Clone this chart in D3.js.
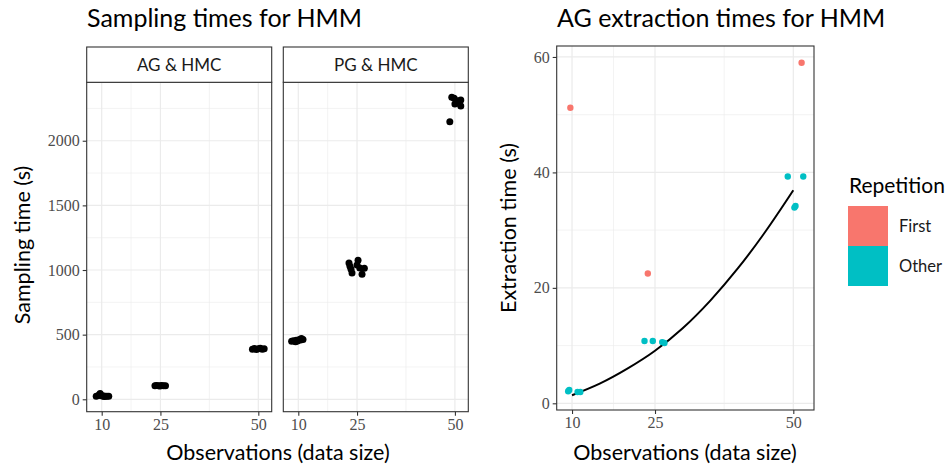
<!DOCTYPE html>
<html>
<head>
<meta charset="utf-8">
<script src="https://cdn.jsdelivr.net/npm/d3@7"></script>
<style>
  body { margin: 0; background: #fff; }
  svg { display: block; }
  .sans { font-family: Lato, "Noto Sans", sans-serif; }
  .tick text { font-family: "Liberation Serif", "DejaVu Serif", serif; }
</style>
</head>
<body>
<div id="chart"></div>
<script>
// ---- data ----
const facets = ['AG & HMC', 'PG & HMC'];
const xTicks = [10, 25, 50];
const yTicksLeft = [0, 500, 1000, 1500, 2000];
const yTicksRight = [0, 20, 40, 60];

// sampling times (jittered x positions)
const agX = [8.6, 9.2, 9.6, 9.9, 10.3, 10.8, 11.3, 11.8, 9.4, 10.6,
             23.6, 24.0, 24.5, 24.9, 25.3, 25.8, 26.3,
             48.5, 49.0, 49.5, 50.0, 50.5, 51.0, 51.5];
const agY = [24, 30, 44, 30, 24, 22, 24, 23, 36, 26,
             104, 106, 105, 103, 106, 104, 105,
             388, 392, 386, 390, 394, 388, 391];
const pgX = [8.3, 8.8, 9.3, 9.8, 10.3, 10.8, 11.2, 9.5, 10.6,
             22.95, 25.26, 23.47, 23.72, 25.0, 26.28, 26.87, 25.7, 23.2,
             49.2, 49.8, 50.7, 51.5, 50.0, 48.7, 51.0, 51.5];
const pgY = [448, 452, 445, 450, 462, 470, 462, 456, 458,
             1054, 1075, 1005, 977, 1039, 967, 1013, 1015, 1030,
             2336, 2328, 2309, 2268, 2284, 2147, 2290, 2315];

// extraction times
const firstX = [9.7, 23.7, 51.5];
const firstY = [51.2, 22.5, 59.0];
const otherX = [9.3, 9.5, 11.0, 11.5, 23.1, 24.6, 26.3, 26.7, 49.0, 51.8, 50.4, 50.2];
const otherY = [2.1, 2.3, 1.96, 1.96, 10.8, 10.8, 10.6, 10.45, 39.3, 39.3, 34.2, 33.9];

// fitted curve
const fitX = [10, 15, 20, 25, 30, 35, 40, 45, 50];
const fitY = [1.4, 3.4, 6.0, 9.1, 13.0, 17.8, 23.4, 29.8, 36.9];

const legendKeys = ['First', 'Other'];
const legendColors = ['#F8766D', '#00BFC4'];

// ---- drawing ----
const W = 952, H = 469;
const svg = d3.select('#chart').append('svg')
  .attr('width', W).attr('height', H)
  .attr('viewBox', `0 0 ${W} ${H}`);

const gridMajor = '#ebebeb';
const border = '#333333';
const tickCol = '#4d4d4d';

function drawPanel(g, x, y, xt, yt, minorX, minorY, showY) {
  const [x0, x1] = x.range();
  const [y0, y1] = y.range();
  minorX.forEach(v => g.append('line').attr('x1', x(v)).attr('x2', x(v))
    .attr('y1', y0).attr('y2', y1).attr('stroke', gridMajor).attr('stroke-width', 0.6));
  minorY.forEach(v => g.append('line').attr('y1', y(v)).attr('y2', y(v))
    .attr('x1', x0).attr('x2', x1).attr('stroke', gridMajor).attr('stroke-width', 0.6));
  xt.forEach(v => g.append('line').attr('x1', x(v)).attr('x2', x(v))
    .attr('y1', y0).attr('y2', y1).attr('stroke', gridMajor).attr('stroke-width', 1.2));
  yt.forEach(v => g.append('line').attr('y1', y(v)).attr('y2', y(v))
    .attr('x1', x0).attr('x2', x1).attr('stroke', gridMajor).attr('stroke-width', 1.2));

  const xa = g.append('g').attr('transform', `translate(0,${y0})`)
    .call(d3.axisBottom(x).tickValues(xt).tickFormat(d3.format('d')).tickSize(4).tickPadding(3));
  styleAxis(xa);
  if (showY) {
    const ya = g.append('g').attr('transform', `translate(${x0},0)`)
      .call(d3.axisLeft(y).tickValues(yt).tickFormat(d3.format('d')).tickSize(4).tickPadding(3));
    styleAxis(ya);
  }
}

function styleAxis(a) {
  a.select('.domain').remove();
  a.selectAll('.tick line').attr('stroke', border).attr('stroke-width', 1.1);
  a.selectAll('.tick text').attr('fill', tickCol).attr('font-size', 16);
}

function drawBorder(g, x, y) {
  const [x0, x1] = x.range();
  const [y0, y1] = y.range();
  g.append('rect').attr('x', x0).attr('y', y1).attr('width', x1 - x0).attr('height', y0 - y1)
    .attr('fill', 'none').attr('stroke', border).attr('stroke-width', 1.1);
}

// left: faceted sampling times
const stripTop = 47, stripBot = 82.3, panelBot = 411.7;
const facetLeft = [86.7, 283.3], facetW = 185;
const yL = d3.scaleLinear().domain([-96, 2452]).range([panelBot, stripBot]);
const facetData = [[agX, agY], [pgX, pgY]];

facets.forEach((name, i) => {
  const g = svg.append('g');
  const xL = d3.scaleLinear().domain([6.17, 53.42]).range([facetLeft[i], facetLeft[i] + facetW]);
  drawPanel(g, xL, yL, xTicks, yTicksLeft, [17.5, 37.5], [250, 750, 1250, 1750, 2250], i === 0);
  const [xs, ys] = facetData[i];
  g.append('g').selectAll('circle')
    .data(d3.range(xs.length))
    .join('circle')
    .attr('cx', k => xL(xs[k]))
    .attr('cy', k => yL(ys[k]))
    .attr('r', 3.5)
    .attr('fill', '#000');
  drawBorder(g, xL, yL);
  // strip
  g.append('rect').attr('x', facetLeft[i]).attr('y', stripTop)
    .attr('width', facetW).attr('height', stripBot - stripTop)
    .attr('fill', '#fff').attr('stroke', border).attr('stroke-width', 1.1);
  g.append('text').attr('class', 'sans')
    .attr('x', facetLeft[i] + facetW / 2).attr('y', (stripTop + stripBot) / 2 + 6)
    .attr('text-anchor', 'middle').attr('font-size', 17).attr('fill', '#1a1a1a')
    .text(name);
});

svg.append('text').attr('class', 'sans')
  .attr('x', 87).attr('y', 27).attr('font-size', 25).attr('fill', '#000')
  .text('Sampling times for HMM');
svg.append('text').attr('class', 'sans')
  .attr('x', 278).attr('y', 460).attr('text-anchor', 'middle')
  .attr('font-size', 21.5).attr('fill', '#000')
  .text('Observations (data size)');
svg.append('text').attr('class', 'sans')
  .attr('transform', 'translate(30,245) rotate(-90)')
  .attr('text-anchor', 'middle').attr('font-size', 21.5).attr('fill', '#000')
  .text('Sampling time (s)');

// right: extraction times
const gR = svg.append('g');
const xR = d3.scaleLinear().domain([7.23, 53.74]).range([556.7, 814]);
const yR = d3.scaleLinear().domain([-1.16, 61.9]).range([410, 46]);
drawPanel(gR, xR, yR, xTicks, yTicksRight, [17.5, 37.5], [10, 30, 50], true);

gR.append('path')
  .datum(d3.range(fitX.length))
  .attr('d', d3.line().x(k => xR(fitX[k])).y(k => yR(fitY[k])).curve(d3.curveMonotoneX))
  .attr('fill', 'none').attr('stroke', '#000').attr('stroke-width', 2);

gR.append('g').selectAll('circle')
  .data(d3.range(otherX.length))
  .join('circle')
  .attr('cx', k => xR(otherX[k])).attr('cy', k => yR(otherY[k]))
  .attr('r', 3.2).attr('fill', legendColors[1]);
gR.append('g').selectAll('circle')
  .data(d3.range(firstX.length))
  .join('circle')
  .attr('cx', k => xR(firstX[k])).attr('cy', k => yR(firstY[k]))
  .attr('r', 3.2).attr('fill', legendColors[0]);
drawBorder(gR, xR, yR);

svg.append('text').attr('class', 'sans')
  .attr('x', 557).attr('y', 27).attr('font-size', 25).attr('fill', '#000')
  .text('AG extraction times for HMM');
svg.append('text').attr('class', 'sans')
  .attr('x', 685).attr('y', 460).attr('text-anchor', 'middle')
  .attr('font-size', 21.5).attr('fill', '#000')
  .text('Observations (data size)');
svg.append('text').attr('class', 'sans')
  .attr('transform', 'translate(516,228) rotate(-90)')
  .attr('text-anchor', 'middle').attr('font-size', 21.5).attr('fill', '#000')
  .text('Extraction time (s)');

// legend
const lg = svg.append('g');
lg.append('text').attr('class', 'sans')
  .attr('x', 849).attr('y', 193).attr('font-size', 21).attr('fill', '#000')
  .text('Repetition');
legendKeys.forEach((k, i) => {
  lg.append('rect').attr('x', 848).attr('y', 206 + i * 40)
    .attr('width', 40).attr('height', 40).attr('fill', legendColors[i]);
  lg.append('text').attr('class', 'sans')
    .attr('x', 899).attr('y', 232 + i * 40).attr('font-size', 16.5).attr('fill', '#1a1a1a')
    .text(k);
});
</script>
</body>
</html>
